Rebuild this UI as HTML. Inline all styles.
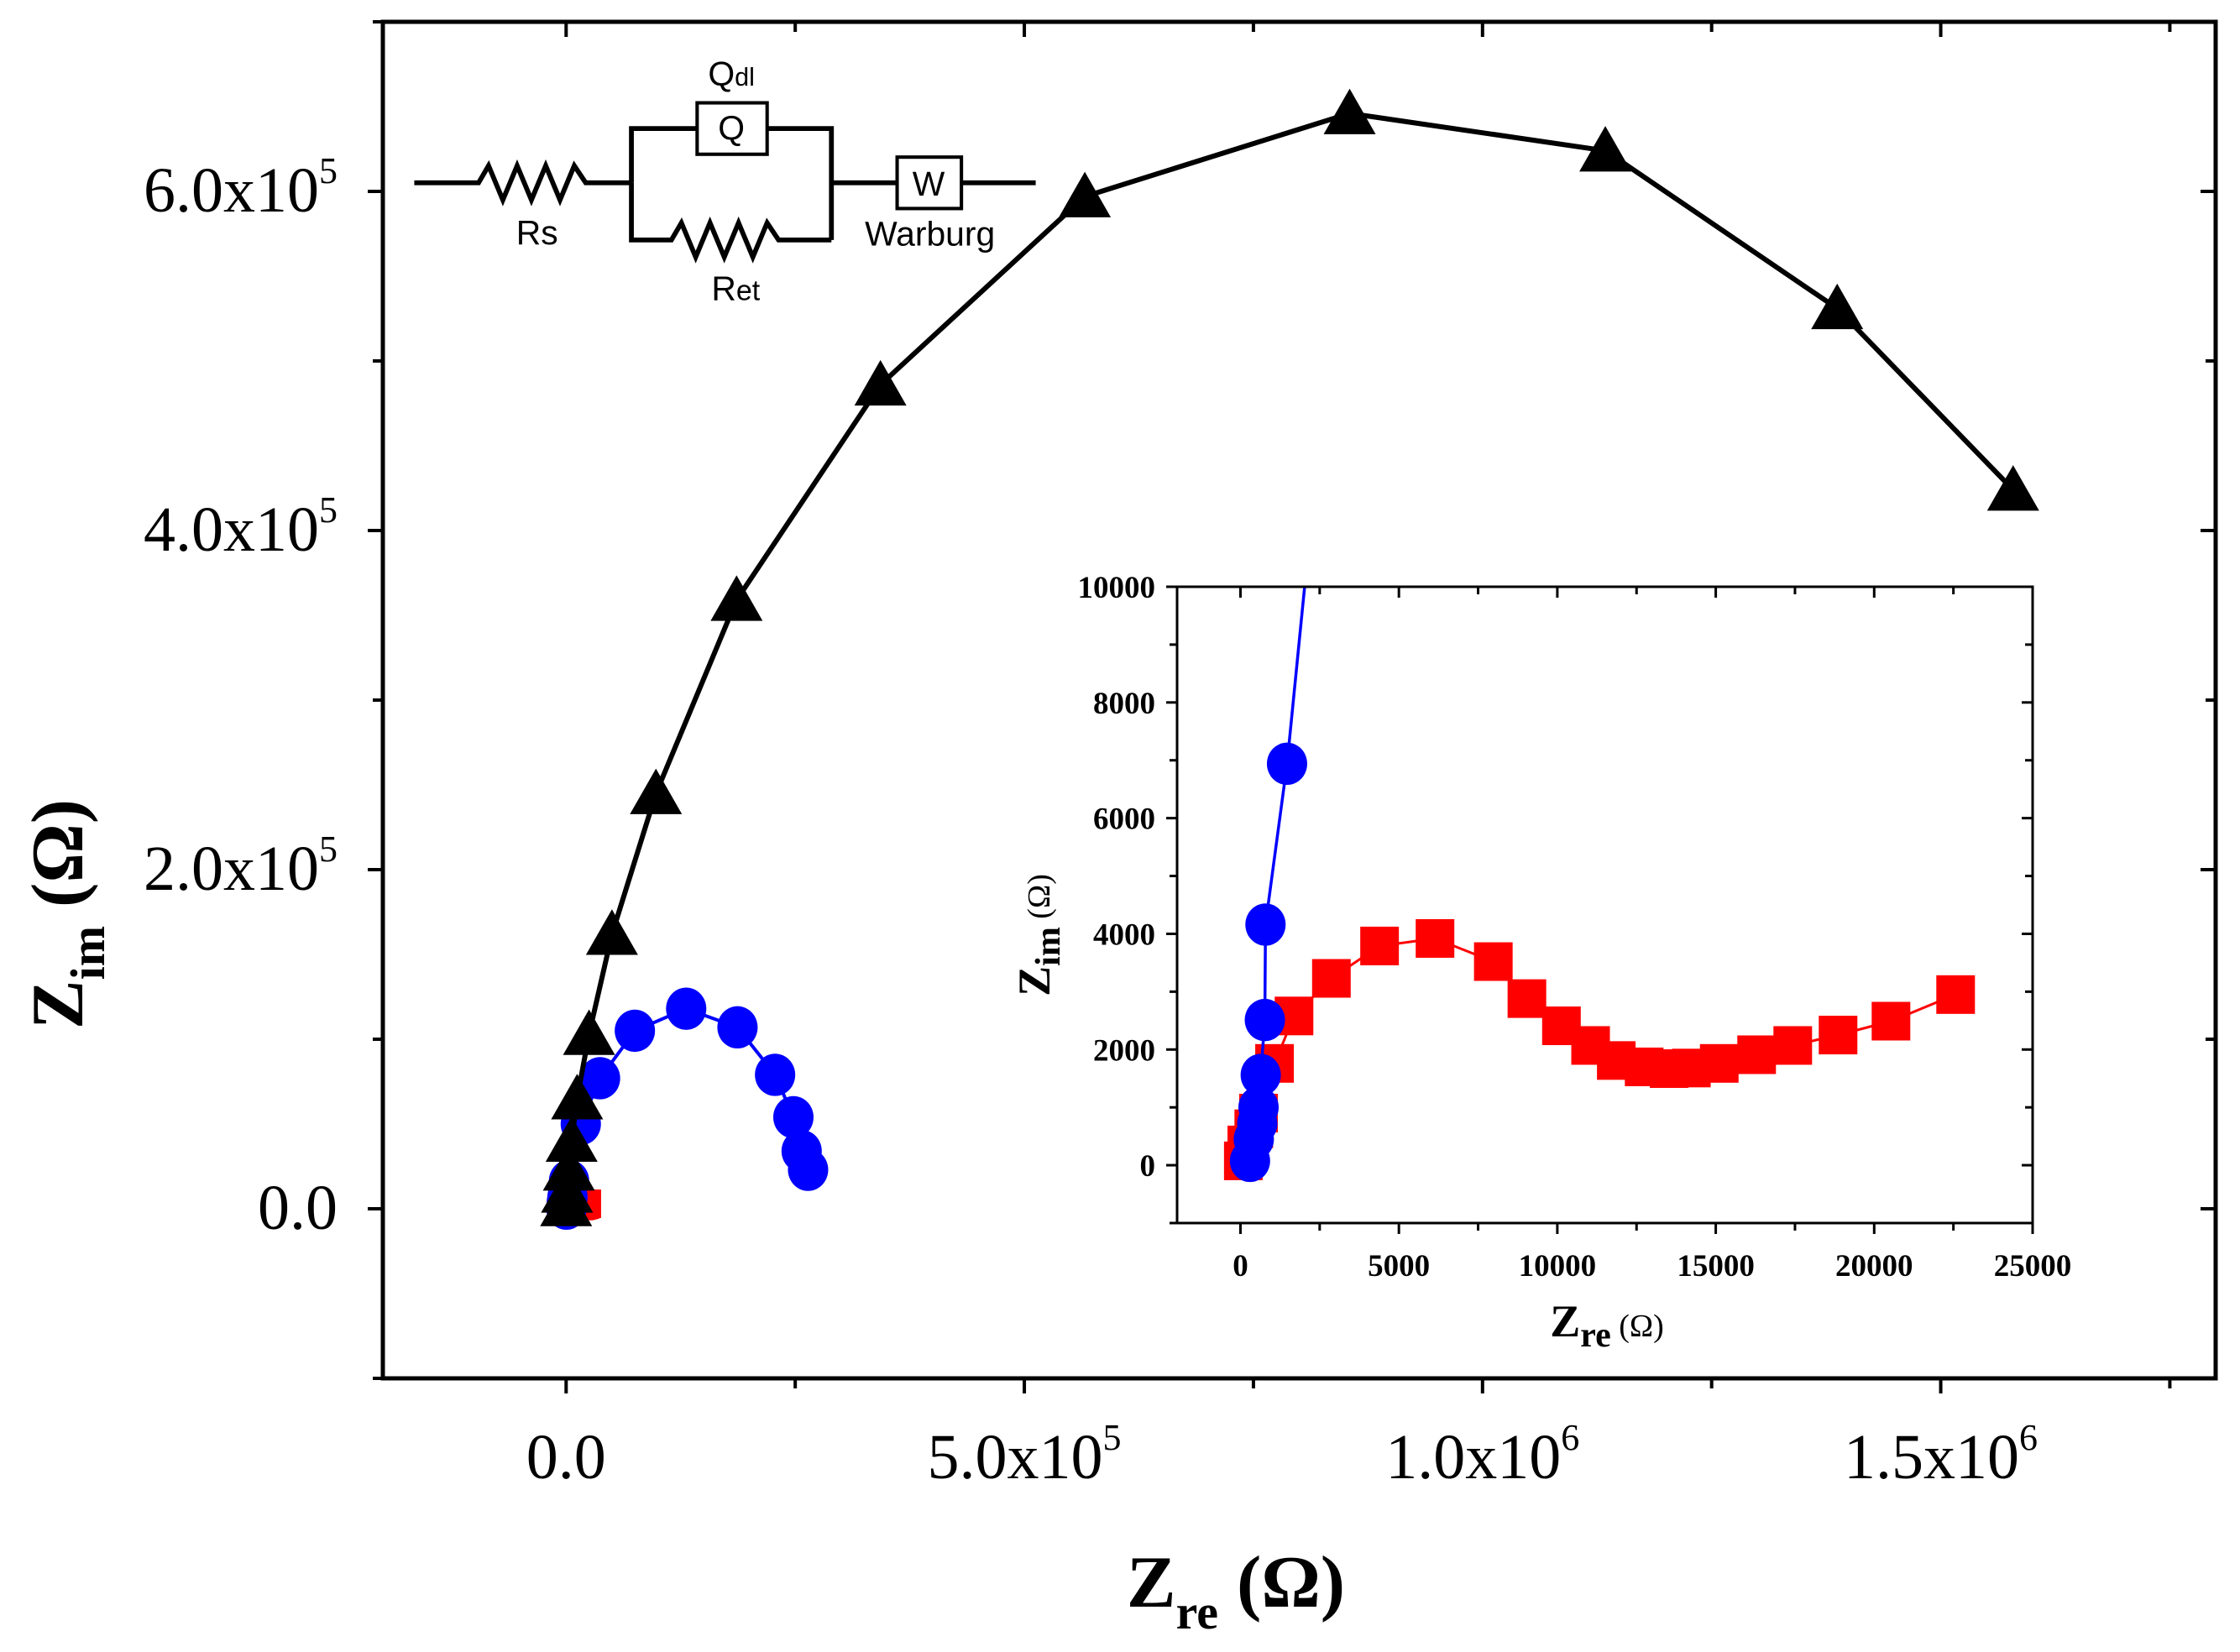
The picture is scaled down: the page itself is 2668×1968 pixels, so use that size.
<!DOCTYPE html>
<html><head><meta charset="utf-8"><style>
html,body{margin:0;padding:0;background:#fff;}
svg{display:block;}
</style></head><body>
<svg id="chart" xmlns="http://www.w3.org/2000/svg" width="2668" height="1968" viewBox="0 0 2668 1968">
<rect width="2668" height="1968" fill="#fff"/>
<defs>
<clipPath id="mainClip"><rect x="456" y="26" width="2183" height="1616"/></clipPath>
<clipPath id="insetClip"><rect x="1402" y="699" width="1019" height="758"/></clipPath>
</defs>
<g id="main"></g>
<g id="circuit" transform="scale(1.7015)" fill="none" stroke="#000" stroke-width="3.4">
<polyline points="290,128 335,128 342,116 352,140 362,116 372,140 382,116 392,140 402,116 410,128 442,128"/>
<polyline points="442,128 442,90 488,90"/>
<rect x="488" y="72" width="49" height="36" stroke-width="2.4"/>
<polyline points="537,90 582,90 582,168"/>
<polyline points="442,128 442,168 470,168 477,156 487,180 497,156 507,180 517,156 527,180 537,156 545,168 582,168"/>
<polyline points="582,128 628,128"/>
<rect x="628" y="110" width="45" height="36" stroke-width="2.4"/>
<polyline points="673,128 725,128"/>
<g fill="#000" stroke="none" font-family="Liberation Sans, sans-serif" font-size="24" text-anchor="middle">
<text x="376" y="171">Rs</text>
<text x="512" y="60">Q<tspan font-size="18">dl</tspan></text>
<text x="512" y="98">Q</text>
<text x="515" y="210">R<tspan font-size="20">et</tspan></text>
<text x="650" y="137">W</text>
<text x="651" y="172">Warburg</text>
</g>
</g>
<g id="inset"></g>
</svg>
<script>
// Main plot data (ohm)
const triX = [0, 1000, 3000, 6000, 12000, 25000, 50000, 98000, 186000, 343000, 566000, 855000, 1134000, 1387000, 1579000];
const triY = [2000, 10000, 23000, 40000, 65000, 103000, 162000, 245000, 359000, 486000, 597000, 646000, 624000, 531000, 424000];
// Blue circles (ohm)
const bluX = [300, 420, 530, 570, 640, 770, 790, 1470, 3200, 16000, 37000, 75000, 131000, 187000, 228000, 248000, 257000, 264000];
const bluY = [75, 450, 720, 1000, 1560, 2510, 4160, 6940, 16500, 50000, 77000, 105000, 118000, 107000, 79000, 54000, 34000, 23000];
// Red squares (ohm)
const redX = [90, 200, 420, 570, 1075, 1690, 2870, 4390, 6140, 7980, 9040, 10130, 11050, 11860, 12740, 13530, 14230, 15110, 16290, 17430, 18860, 20530, 22570];
const redY = [75, 350, 630, 900, 1760, 2580, 3230, 3790, 3920, 3520, 2880, 2410, 2070, 1810, 1700, 1670, 1680, 1760, 1910, 2070, 2250, 2490, 2950];
// Tick definitions
const mainXTicks = [0, 500000, 1000000, 1500000];
const mainXTickLabels = ["0.0", "5.0x10", "1.0x10", "1.5x10"];
const mainXTickExp = ["", "5", "6", "6"];
const mainYTicks = [0, 200000, 400000, 600000];
const mainYTickLabels = ["0.0", "2.0x10", "4.0x10", "6.0x10"];
const mainYTickExp = ["", "5", "5", "5"];
const insetXTicks = [0, 5000, 10000, 15000, 20000, 25000];
const insetXTickLabels = ["0", "5000", "10000", "15000", "20000", "25000"];
const insetYTicks = [0, 2000, 4000, 6000, 8000, 10000];
const insetYTickLabels = ["0", "2000", "4000", "6000", "8000", "10000"];

const NS = "http://www.w3.org/2000/svg";
function mk(tag, attrs, parent){const e=document.createElementNS(NS,tag);for(const k in attrs)e.setAttribute(k,attrs[k]);parent.appendChild(e);return e;}

const M = {L:456,R:2639,T:26,B:1642,x0:-200000,x1:1800000,y0:-100000,y1:700000};
const I = {L:1402,R:2421,T:699,B:1457,x0:-2000,x1:25000,y0:-1000,y1:10000};
function sx(P,v){return P.L+(v-P.x0)/(P.x1-P.x0)*(P.R-P.L);}
function sy(P,v){return P.B-(v-P.y0)/(P.y1-P.y0)*(P.B-P.T);}

function drawSeries(g,P,xs,ys,color,lw,shape,size,name){
  const pts=xs.map((x,i)=>sx(P,x).toFixed(1)+","+sy(P,ys[i]).toFixed(1)).join(" ");
  const pl=mk("polyline",{points:pts,fill:"none",stroke:color,"stroke-width":lw,"stroke-linejoin":"round"},g);
  
  
  xs.forEach((x,i)=>{
    const cx=sx(P,x), cy=sy(P,ys[i]); let m;
    if(shape==="tri"){m=mk("polygon",{points:`${cx},${cy-size*0.95} ${cx-size},${cy+size*0.8} ${cx+size},${cy+size*0.8}`,fill:color},g);}
    else if(shape==="circ"){m=mk("ellipse",{cx:cx,cy:cy,rx:size,ry:size*1.05,fill:color},g);}
    else {m=mk("rect",{x:cx-size,y:cy-size,width:size*2,height:size*2,fill:color},g);}
    
    
  });
}

function drawAxes(g,P,o){
  mk("rect",{x:P.L,y:P.T,width:P.R-P.L,height:P.B-P.T,fill:"#fff",stroke:"none"},g);
  for(let v=o.xMinorStart; v<=P.x1+1e-9; v+=o.xMinor){
    const X=sx(P,v); if(X<P.L-1) continue;
    const major = Math.abs((v/o.xMajor)-Math.round(v/o.xMajor))<1e-6;
    const len = major?o.majLen:o.minLen;
    const t1=mk("line",{x1:X,y1:P.B,x2:X,y2:P.B+len,stroke:"#000","stroke-width":o.tw},g);
    
    
    mk("line",{x1:X,y1:P.T,x2:X,y2:P.T+len,stroke:"#000","stroke-width":o.tw},g);
  }
  for(let v=o.yMinorStart; v<=P.y1+1e-9; v+=o.yMinor){
    const Y=sy(P,v);
    const major = Math.abs((v/o.yMajor)-Math.round(v/o.yMajor))<1e-6;
    const len = major?o.majLen:o.minLen;
    const t1=mk("line",{x1:P.L-len,y1:Y,x2:P.L,y2:Y,stroke:"#000","stroke-width":o.tw},g);
    
    
    mk("line",{x1:P.R-len,y1:Y,x2:P.R,y2:Y,stroke:"#000","stroke-width":o.tw},g);
  }
}

// MAIN
const gm=document.getElementById("main");
drawAxes(gm,M,{xMinor:250000,xMinorStart:-250000,xMajor:500000,yMinor:100000,yMinorStart:-100000,yMajor:200000,majLen:18,minLen:12,tw:4});
const gmd=mk("g",{"clip-path":"url(#mainClip)"},gm);
drawSeries(gmd,M,redX,redY,"#f00",3,"sq",17,"red-square");
drawSeries(gmd,M,bluX,bluY,"#00f",4,"circ",24,"blue-circle");
drawSeries(gmd,M,triX,triY,"#000",6,"tri",31,"black-triangle");
const fr=mk("rect",{x:M.L,y:M.T,width:M.R-M.L,height:M.B-M.T,fill:"none",stroke:"#000","stroke-width":5},gm);


mainXTicks.forEach((v,i)=>{
  const t=mk("text",{x:sx(M,v),y:1761,"text-anchor":"middle","font-family":"Liberation Serif, serif","font-size":76},gm);
  
  
  t.textContent=mainXTickLabels[i];
  if(mainXTickExp[i]){const s=mk("tspan",{dy:-34,"font-size":44},t);s.textContent=mainXTickExp[i];}
});
mainYTicks.forEach((v,i)=>{
  const t=mk("text",{x:402,y:sy(M,v)+24,"text-anchor":"end","font-family":"Liberation Serif, serif","font-size":76},gm);
  
  
  t.textContent=mainYTickLabels[i];
  if(mainYTickExp[i]){const s=mk("tspan",{dy:-34,"font-size":44},t);s.textContent=mainYTickExp[i];}
});
{
  const t=mk("text",{x:1472,y:1914,"text-anchor":"middle","font-family":"Liberation Serif, serif","font-size":88,"font-weight":"bold"},gm);
  
  
  t.innerHTML='Z<tspan dy="26" font-size="58">re</tspan><tspan dy="-26"> (Ω)</tspan>';
  const u=mk("text",{transform:"translate(98,1089) rotate(-90)","text-anchor":"middle","font-family":"Liberation Serif, serif","font-size":88,"font-weight":"bold"},gm);
  
  
  u.innerHTML='Z<tspan dy="26" font-size="58">im</tspan><tspan dy="-26"> (Ω)</tspan>';
}

// INSET
const gi=document.getElementById("inset");
drawAxes(gi,I,{xMinor:2500,xMinorStart:0,xMajor:5000,yMinor:1000,yMinorStart:-1000,yMajor:2000,majLen:13,minLen:9,tw:3});
const gid=mk("g",{"clip-path":"url(#insetClip)"},gi);
drawSeries(gid,I,redX,redY,"#f00",3,"sq",23,"inset-red-square");
drawSeries(gid,I,bluX,bluY,"#00f",3.5,"circ",24,"inset-blue-circle");
const fi=mk("rect",{x:I.L,y:I.T,width:I.R-I.L,height:I.B-I.T,fill:"none",stroke:"#000","stroke-width":3},gi);


insetXTicks.forEach((v,i)=>{
  const t=mk("text",{x:sx(I,v),y:1520,"text-anchor":"middle","font-family":"Liberation Serif, serif","font-size":37,"font-weight":"bold"},gi);
  
  
  t.textContent=insetXTickLabels[i];
});
insetYTicks.forEach((v,i)=>{
  const t=mk("text",{x:1376,y:sy(I,v)+13,"text-anchor":"end","font-family":"Liberation Serif, serif","font-size":37,"font-weight":"bold"},gi);
  
  
  t.textContent=insetYTickLabels[i];
});
{
  const t=mk("text",{x:1914,y:1592,"text-anchor":"middle","font-family":"Liberation Serif, serif","font-size":54,"font-weight":"bold"},gi);
  
  
  t.innerHTML='Z<tspan dy="12" font-size="42">re</tspan><tspan dy="-12" font-weight="normal" font-size="38"> (Ω)</tspan>';
  const u=mk("text",{transform:"translate(1250,1114) rotate(-90)","text-anchor":"middle","font-family":"Liberation Serif, serif","font-size":54,"font-weight":"bold"},gi);
  
  
  u.innerHTML='Z<tspan dy="12" font-size="42">im</tspan><tspan dy="-12" font-weight="normal" font-size="38"> (Ω)</tspan>';
}
</script>
</body></html>
